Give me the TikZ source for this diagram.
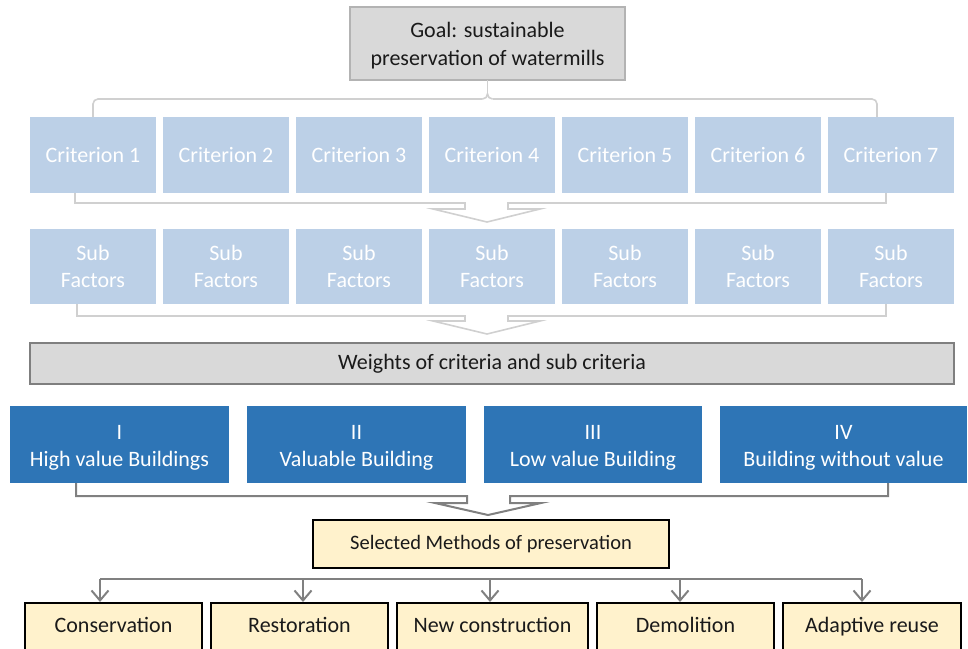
\documentclass[tikz,border=0pt]{standalone}
\usepackage{fontspec}
\setmainfont{Carlito}
\usetikzlibrary{calc,arrows.meta}

\definecolor{greyfill}{HTML}{D9D9D9}
\definecolor{greyedge}{HTML}{B3B3B3}
\definecolor{darkedge}{HTML}{7F7F7F}
\definecolor{paleblue}{HTML}{BCD0E7}
\definecolor{deepblue}{HTML}{2E75B6}
\definecolor{cream}{HTML}{FFF2CC}
\definecolor{lightlink}{HTML}{D0D0D0}
\definecolor{darklink}{HTML}{808080}
\definecolor{ink}{HTML}{1A1A1A}

\tikzset{
  base/.style={inner sep=0pt, outer sep=0pt, align=center,
    font=\fontsize{22}{27}\selectfont},
  goalbox/.style={base, fill=greyfill, draw=greyedge, line width=1.5pt, text=ink,
    minimum width=275pt, minimum height=73pt, font=\fontsize{22}{28}\selectfont},
  critbox/.style={base, fill=paleblue, text=white,
    minimum width=126pt, minimum height=76pt},
  subbox/.style={critbox, minimum height=75pt},
  weightbox/.style={base, fill=greyfill, draw=darkedge, line width=1.5pt, text=ink,
    minimum width=924pt, minimum height=41pt},
  classbox/.style={base, fill=deepblue, text=white, minimum height=77pt},
  selbox/.style={base, fill=cream, draw=black, line width=2.5pt, text=ink,
    font=\fontsize{20.5}{25}\selectfont, minimum width=356pt, minimum height=48pt},
  methbox/.style={base, fill=cream, draw=black, line width=2.5pt, text=ink,
    minimum height=48pt, text height=15pt, text depth=5pt},
  lightline/.style={draw=lightlink, line width=1.6pt},
  darkline/.style={draw=darklink, line width=2pt},
  downarrow/.style={darkline, -{Straight Barb[length=10pt,width=17pt,line width=2pt]}},
}

\begin{document}
\begin{tikzpicture}[x=1pt,y=-1pt]
  \useasboundingbox (0,0) rectangle (968,648);
  \clip (0,0) rectangle (968,648);

  % goal
  \node[goalbox] (goal) at (487.5,43.5) {\rule{0pt}{20pt}Goal: sustainable\\preservation of watermills};

  % criteria and their sub factors
  \foreach \i/\x in {1/93,2/226,3/359,4/492,5/625,6/758,7/891} {
    \node[critbox] (c\i) at (\x,155) {Criterion \i};
    \node[subbox]  (s\i) at (\x,266.5) {Sub\\Factors};
  }

  % weights bar
  \node[weightbox] (w) at (492,363.5) {Weights of criteria and sub criteria};

  % building classes
  \node[classbox, minimum width=219pt] (b1) at (119.5,444.5) {\rule{0pt}{20pt}I\\High value Buildings};
  \node[classbox, minimum width=219pt] (b2) at (356.5,444.5) {\rule{0pt}{20pt}II\\Valuable Building};
  \node[classbox, minimum width=218pt] (b3) at (593,444.5) {\rule{0pt}{20pt}III\\Low value Building};
  \node[classbox, minimum width=247pt] (b4) at (843.5,444.5) {\rule{0pt}{20pt}IV\\Building without value};

  % selected methods
  \node[selbox] (sel) at (491,544) {Selected Methods of preservation};

  % preservation methods
  \node[methbox, minimum width=177pt] (m1) at (113.5,627) {Conservation};
  \node[methbox, minimum width=177pt] (m2) at (299.5,627) {Restoration};
  \node[methbox, minimum width=191pt] (m3) at (492.5,627) {New construction};
  \node[methbox, minimum width=177pt] (m4) at (685.5,627) {Demolition};
  \node[methbox, minimum width=178pt] (m5) at (872,627) {Adaptive reuse};

  % brace from the goal to the criteria
  \coordinate (bt) at (487.5,99);
  \draw[lightline] (goal.south) -- ($(bt)+(0,-5)$);
  \draw[lightline, rounded corners=5pt]
    (c1.north) |- ($(bt)+(-5,0)$);
  \draw[lightline] ($(bt)+(-5,0)$) to[out=0,in=-90] ($(bt)+(0,-5)$)
    to[out=-90,in=180] ($(bt)+(5,0)$);
  \draw[lightline, rounded corners=5pt]
    ($(bt)+(5,0)$) -| ($(c7.north)+(-14,0)$);

  % merge arrow: criteria -> sub factors
  \draw[lightline, line join=miter]
    ($(c1.south)+(-18,0)$) -- (75,203) -- (465,203) -- (465,209) -- (433,209)
    -- (487,222) -- (540,209) -- (508,209) -- (508,203) -- (886,203)
    -- ($(c7.south)+(-5,0)$);

  % merge arrow: sub factors -> weights
  \draw[lightline, line join=miter]
    ($(s1.south)+(-16,0)$) -- (77,316) -- (465,316) -- (465,321) -- (433,321)
    -- (487,334) -- (540,321) -- (508,321) -- (508,316) -- (886,316)
    -- ($(s7.south)+(-5,0)$);

  % merge arrow: building classes -> selected methods
  \draw[darkline, line join=miter]
    ($(b1.south)+(-43.5,0)$) -- (76,496) -- (467,496) -- (467,503) -- (435,503)
    -- (488,515) -- (541,503) -- (510,503) -- (510,496) -- (888,496)
    -- ($(b4.south)+(44.5,0)$);

  % distribution to the methods
  \draw[darkline] ($(m1.north)+(-13.5,-24)$) -- ($(m5.north)+(-10,-24)$);
  \foreach \n/\dx in {m1/-13.5,m2/3.5,m3/-2.5,m4/-5.5,m5/-10}
    \draw[downarrow] ($(\n.north)+(\dx,-24)$) -- ($(\n.north)+(\dx,-1)$);
\end{tikzpicture}
\end{document}
